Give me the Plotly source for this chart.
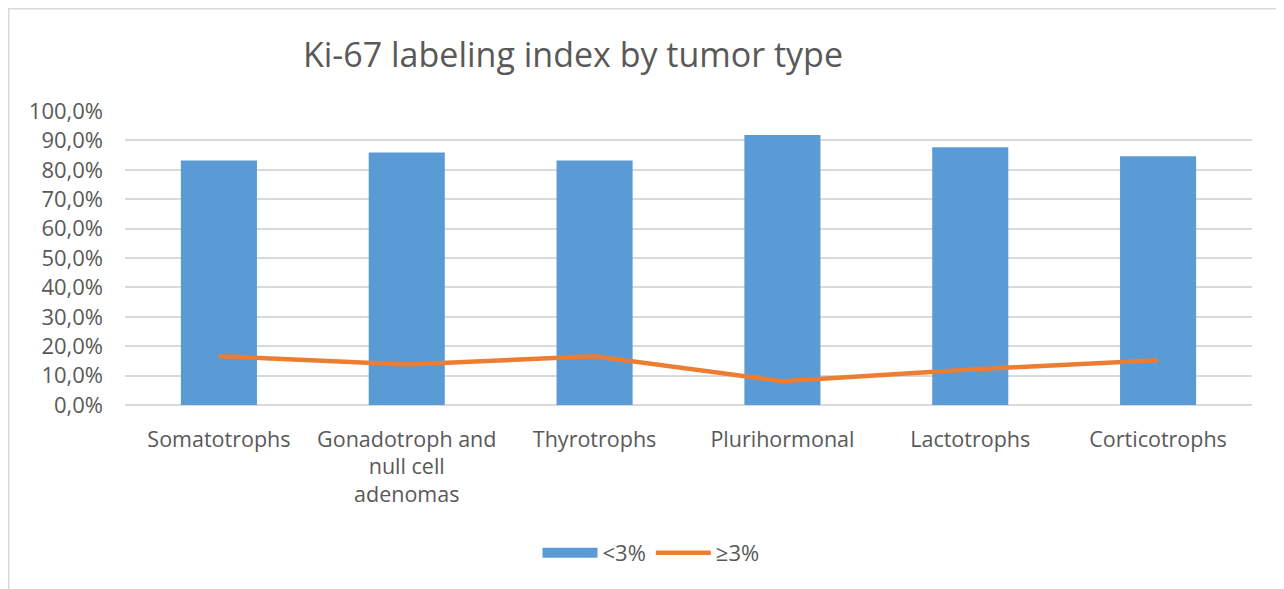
import plotly.graph_objects as go

categories = ["Somatotrophs", "Gonadotroph and<br>null cell<br>adenomas", "Thyrotrophs",
              "Plurihormonal", "Lactotrophs", "Corticotrophs"]
below3 = [0.832, 0.859, 0.832, 0.918, 0.877, 0.846]
above3 = [0.166, 0.138, 0.166, 0.081, 0.121, 0.152]
y_ticks = [0, 0.1, 0.2, 0.3, 0.4, 0.5, 0.6, 0.7, 0.8, 0.9, 1.0]

FONT = "Open Sans"
GRAY = "#595959"
BLUE = "#5B9BD5"
ORANGE = "#ED7D31"

# page body has an 8px margin; work in screen coordinates and shift
OFF = 8
W, H = 1284 - OFF, 589 - OFF
L = 125 - OFF
T = 111 - OFF
R = W - (1252 - OFF)
B = H - (405 - OFF)
pw, ph = W - L - R, H - T - B

def px(sx):
    return (sx - OFF - L) / pw

def py(sy):
    return (H - B - (sy - OFF)) / ph

fig = go.Figure()
fig.add_trace(go.Bar(x=categories, y=below3, name="<3%", legendgroup="a", showlegend=False,
                     marker=dict(color=BLUE, line=dict(width=0))))
# legend swatch for the bar series (wide rectangle, as in the original)
fig.add_trace(go.Scatter(x=[None], y=[None], name="<3%", legendgroup="a", mode="lines",
                         line=dict(color=BLUE, width=15), hoverinfo="skip"))
fig.add_trace(go.Scatter(x=categories, y=above3, name="≥3%", mode="lines",
                         line=dict(color=ORANGE, width=4.5)))

fig.add_shape(type="rect", xref="paper", yref="paper",
              x0=(0.75 - L) / pw, x1=px(1282), y0=py(640), y1=(H - B - 0.75) / ph,
              line=dict(color="#D9D9D9", width=1.5), fillcolor="rgba(0,0,0,0)", layer="below")

fig.update_layout(
    width=W, height=H,
    margin=dict(l=L, r=R, t=T, b=B),
    paper_bgcolor="white", plot_bgcolor="white",
    separators=", ",
    font=dict(family=FONT, color=GRAY, size=21),
    title=dict(text="Ki-67 labeling index by tumor type", x=(573 - OFF) / W, xanchor="center",
               y=1 - (55 - OFF) / H, yanchor="middle", xref="container", yref="container",
               font=dict(size=34, color=GRAY, family=FONT)),
    bargap=0.595,
    showlegend=True,
    legend=dict(orientation="h", x=px(651), xanchor="center", y=py(553), yanchor="middle",
                font=dict(size=22, color=GRAY, family=FONT), itemwidth=55,
                bgcolor="rgba(0,0,0,0)", tracegroupgap=0),
    xaxis=dict(showgrid=False, showline=False, ticks="", tickfont=dict(size=21.5, color=GRAY),
               ticklabelstandoff=19, fixedrange=True),
    yaxis=dict(range=[0, 1], tickvals=y_ticks, tickformat=".1%", showgrid=True,
               gridcolor="#D9D9D9", gridwidth=1.5, zeroline=True, zerolinecolor="#D9D9D9",
               zerolinewidth=1.5, showline=False, ticks="", ticklabelstandoff=21,
               tickfont=dict(size=22, color=GRAY), fixedrange=True),
)

fig.write_html("out.html")
